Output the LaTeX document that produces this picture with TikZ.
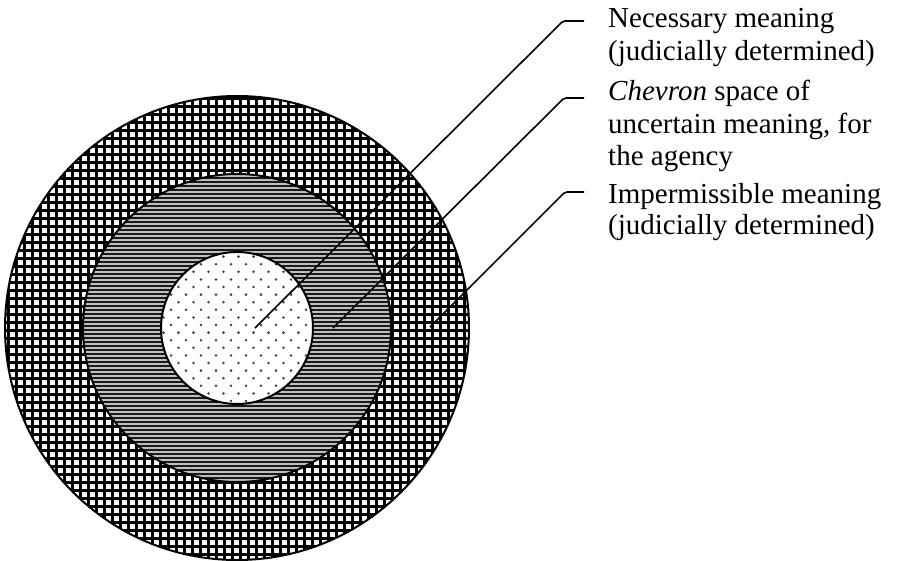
\documentclass[tikz,border=0pt]{standalone}
\usepackage{fontspec}
\setmainfont{Liberation Serif}
\begin{document}
\begin{tikzpicture}[x=1pt,y=-1pt,
  lbl/.style={anchor=base west,inner sep=0pt,font=\fontsize{29}{33}\selectfont},
  leader/.style={line width=1.6pt,rounded corners=2pt},
  ring/.style={line width=2pt}]
\useasboundingbox[fill=white] (0,0) rectangle (900,560);
\coordinate (c) at (237,328);
% outer ring: cross-hatch grid
\begin{scope}
  \clip (c) circle[radius=232pt];
  \foreach \i in {0,8,...,488} {
    \draw[line width=3pt] (\i,90) -- (\i,566);
    \draw[line width=3pt] (0,\i+90) -- (480,\i+90);
  }
\end{scope}
% middle ring: horizontal lines
\fill[black!25] (c) circle[radius=154pt];
\begin{scope}
  \clip (c) circle[radius=154pt];
  \foreach \j in {170,174,...,490} {
    \draw[line width=2.8pt,black!90] (80,\j) -- (395,\j);
  }
\end{scope}
% inner disc: dots
\fill[white] (c) circle[radius=76pt];
\begin{scope}
  \clip (c) circle[radius=76pt];
  \foreach \r in {0,...,22} {
    \pgfmathsetmacro\yy{249+\r*7.6}
    \pgfmathsetmacro\xo{mod(\r,2)*7.5}
    \foreach \k in {0,...,11} {
      \fill[black!75] (156+\xo+\k*15,\yy) circle[radius=1.4pt];
    }
  }
\end{scope}
% outlines
\draw[ring] (c) circle[radius=232pt];
\draw[ring] (c) circle[radius=154pt];
\draw[ring] (c) circle[radius=76pt];
% leader coordinates
\coordinate (p1) at (255,328);
\coordinate (k1) at (563,21);
\coordinate (e1) at (584,21);
\coordinate (p2) at (333,328);
\coordinate (k2) at (564,98);
\coordinate (e2) at (584,98);
\coordinate (p3) at (430,327);
\coordinate (k3) at (565,192);
\coordinate (e3) at (584,192);
\draw[leader] (p1) -- (k1) -- (e1);
\draw[leader] (p2) -- (k2) -- (e2);
\draw[leader] (p3) -- (k3) -- (e3);
% labels
\node[lbl] (t1a) at (608,27) {Necessary meaning};
\node[lbl] (t1b) at (608,60) {(judicially determined)};
\node[lbl] (t2a) at (608,100) {\textit{Chevron} space of};
\node[lbl] (t2b) at (608,133) {uncertain meaning, for};
\node[lbl] (t2c) at (608,165) {the agency};
\node[lbl] (t3a) at (608,203) {Impermissible meaning};
\node[lbl] (t3b) at (608,234) {(judicially determined)};
\end{tikzpicture}
\end{document}
